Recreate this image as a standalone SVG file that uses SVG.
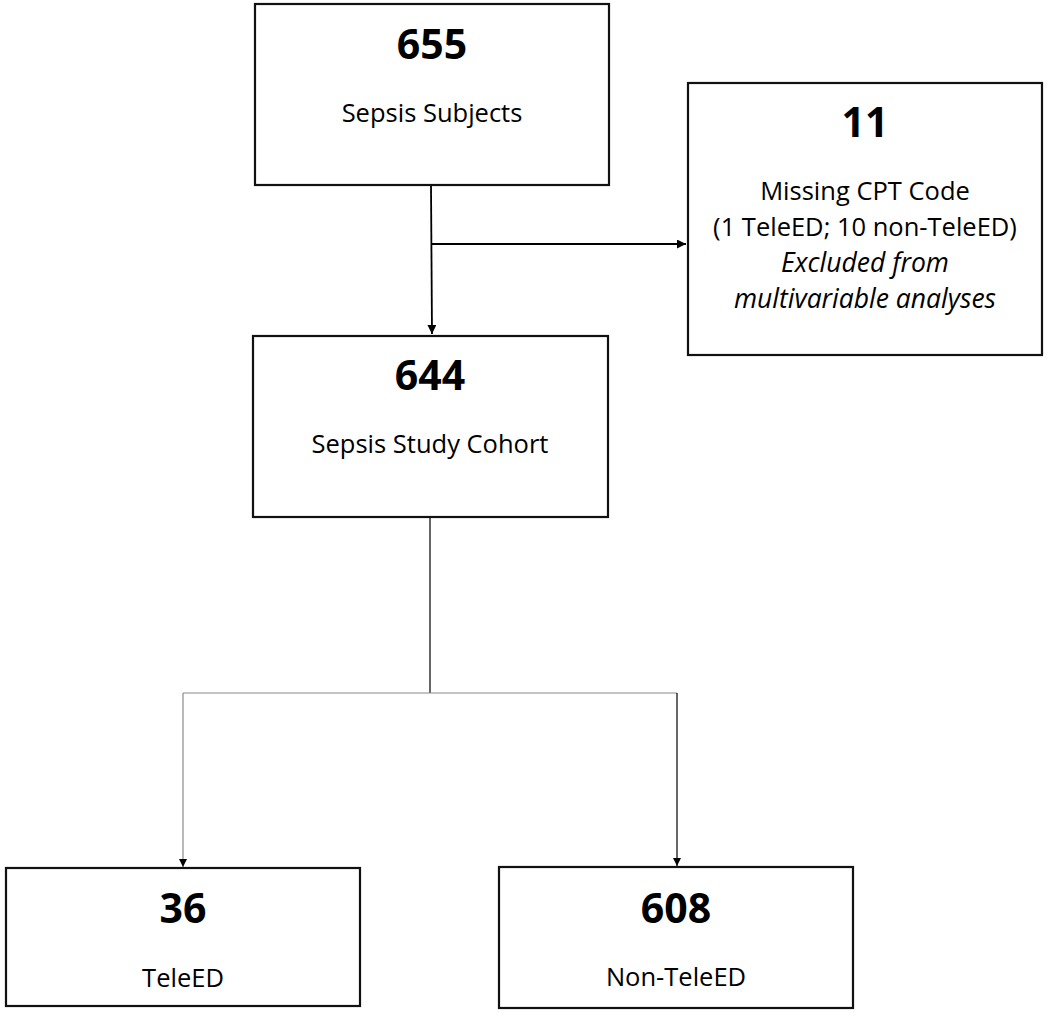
<svg xmlns="http://www.w3.org/2000/svg" width="1050" height="1036" viewBox="0 0 1050 1036">
  <style>
    .box { fill: #ffffff; stroke: #111111; stroke-width: 2.2; }
    .num { font-family: "Open Sans", "Liberation Sans", sans-serif; font-weight: bold; font-size: 41px; fill: #000; text-anchor: middle; }
    .lbl { font-family: "Open Sans", "Liberation Sans", sans-serif; font-size: 25.5px; fill: #000; text-anchor: middle; }
    .it { font-style: italic; font-size: 26.5px; }
    .conn { fill: none; stroke: #000; stroke-width: 1.8; }
    .thin { fill: none; stroke: #000; stroke-width: 1.2; }
    .gray { fill: none; stroke: #8a8a8a; stroke-width: 1.2; }
  </style>
  <defs>
    <marker id="arr" viewBox="0 0 10 10" refX="10" refY="5" markerUnits="userSpaceOnUse" markerWidth="9" markerHeight="9" orient="auto">
      <path d="M0,0 L10,5 L0,10 Z" fill="#000"/>
    </marker>
    <marker id="arrs" viewBox="0 0 10 10" refX="10" refY="5" markerUnits="userSpaceOnUse" markerWidth="8" markerHeight="8" orient="auto">
      <path d="M0,0 L10,5 L0,10 Z" fill="#000"/>
    </marker>
  </defs>
  <rect width="1050" height="1036" fill="#ffffff"/>

  <g id="connectors">
    <path class="conn" d="M431,185 L432,334" marker-end="url(#arr)"/>
    <path class="conn" d="M431,244 L686,244" marker-end="url(#arr)"/>
    <path class="thin" d="M430,517 L430,693"/>
    <path class="gray" d="M183,693 L677,693"/>
    <path class="gray" d="M183,693 L183,867" marker-end="url(#arrs)"/>
    <path class="thin" d="M677,693 L677,866" marker-end="url(#arrs)"/>
  </g>

  <g id="node-655">
    <rect class="box" x="255" y="4" width="354" height="181"/>
    <text class="num" x="432" y="59">655</text>
    <text class="lbl" x="432" y="122">Sepsis Subjects</text>
  </g>

  <g id="node-11">
    <rect class="box" x="688" y="83" width="354" height="272"/>
    <text class="num" x="865" y="137">11</text>
    <text class="lbl" x="865" y="200">Missing CPT Code</text>
    <text class="lbl" x="865" y="236">(1 TeleED; 10 non-TeleED)</text>
    <text class="lbl it" x="865" y="272">Excluded from</text>
    <text class="lbl it" x="865" y="308">multivariable analyses</text>
  </g>

  <g id="node-644">
    <rect class="box" x="253" y="336" width="355" height="181"/>
    <text class="num" x="430" y="390">644</text>
    <text class="lbl" x="430" y="453">Sepsis Study Cohort</text>
  </g>

  <g id="node-36">
    <rect class="box" x="6" y="868" width="354" height="138"/>
    <text class="num" x="183" y="923">36</text>
    <text class="lbl" x="183" y="987">TeleED</text>
  </g>

  <g id="node-608">
    <rect class="box" x="499" y="867" width="354" height="141"/>
    <text class="num" x="676" y="923">608</text>
    <text class="lbl" x="676" y="986">Non-TeleED</text>
  </g>
</svg>
